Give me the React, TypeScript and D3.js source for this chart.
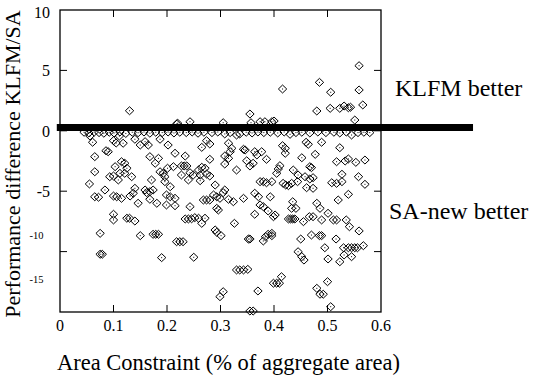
import React from "react";
import * as d3 from "d3";

// ---- data (x: area constraint fraction, y: performance difference) ----
const aboveZero: [number, number][] = [
  [0.130, 1.66], [0.355, 1.39], [0.220, 0.62], [0.243, 0.75], [0.305, 0.67], [0.357, 0.67],
  [0.374, 0.75], [0.383, 0.75], [0.396, 0.75], [0.559, 5.39], [0.416, 3.46], [0.485, 4.01],
  [0.506, 3.19], [0.559, 3.38], [0.480, 1.64], [0.505, 1.86], [0.523, 1.86], [0.531, 2.05],
  [0.539, 1.91], [0.543, 1.95], [0.566, 2.14], [0.551, 0.89], [0.400, 0.81], [0.218, 0.56],
];

const nearZero: [number, number][] = [
  [0.045, -0.12], [0.054, -0.18], [0.064, -0.10], [0.073, -0.15], [0.082, -0.20], [0.092, -0.12],
  [0.101, -0.18], [0.112, -0.10], [0.123, -0.22], [0.135, -0.12], [0.146, -0.16], [0.157, -0.10],
  [0.168, -0.20], [0.179, -0.12], [0.191, -0.15], [0.202, -0.10], [0.213, -0.18], [0.224, -0.12],
  [0.236, -0.15], [0.247, -0.10], [0.258, -0.20], [0.269, -0.12], [0.284, -0.15], [0.295, -0.10],
  [0.318, -0.15], [0.348, -0.12], [0.359, -0.18], [0.370, -0.10], [0.381, -0.15], [0.393, -0.12],
  [0.407, -0.18], [0.419, -0.10], [0.441, -0.15], [0.452, -0.12], [0.467, -0.18], [0.482, -0.10],
  [0.497, -0.15], [0.512, -0.12], [0.523, -0.18], [0.535, -0.10], [0.557, -0.15], [0.568, -0.12],
  [0.579, -0.15], [0.430, -0.29], [0.545, -0.35], [0.308, -0.26], [0.330, -0.35], [0.336, -0.26],
];

const bandLow: [number, number][] = [
  [0.056, -0.43], [0.061, -0.95], [0.100, -0.82], [0.111, -0.43], [0.118, -1.03], [0.105, -1.01],
  [0.140, -0.70], [0.150, -1.18], [0.159, -0.90], [0.165, -1.18], [0.187, -0.70], [0.202, -1.18],
  [0.215, -1.86], [0.065, -2.14], [0.086, -1.65], [0.090, -1.73], [0.115, -2.56], [0.121, -2.69],
  [0.103, -2.97], [0.125, -3.10], [0.168, -2.14], [0.178, -2.69], [0.184, -2.28], [0.065, -3.39],
  [0.112, -3.52], [0.121, -3.52], [0.093, -3.80], [0.100, -3.74], [0.109, -4.07], [0.134, -3.80],
  [0.187, -3.39], [0.193, -3.52], [0.201, -3.10], [0.196, -3.80], [0.212, -2.97], [0.171, -4.07],
  [0.055, -4.40], [0.196, -4.21], [0.206, -4.63], [0.084, -4.90], [0.065, -5.46], [0.072, -5.50],
  [0.100, -5.40], [0.106, -5.46], [0.115, -5.59], [0.140, -4.76], [0.137, -5.17], [0.131, -5.40],
  [0.159, -4.90], [0.162, -5.12], [0.168, -5.04], [0.174, -4.90], [0.146, -6.00], [0.168, -5.67],
  [0.199, -5.31], [0.206, -5.46], [0.181, -6.00], [0.199, -6.14], [0.215, -5.59], [0.215, -6.20],
  [0.100, -6.91], [0.100, -7.38], [0.125, -7.24], [0.130, -7.24], [0.140, -7.47], [0.075, -8.49],
  [0.150, -8.68], [0.174, -8.57], [0.179, -8.57], [0.184, -8.57], [0.075, -10.22], [0.079, -10.22],
  [0.190, -10.50],
];

const bandMid: [number, number][] = [
  [0.274, -0.82], [0.280, -1.09], [0.265, -1.37], [0.315, -1.03], [0.321, -1.45], [0.318, -1.73],
  [0.343, -1.53], [0.346, -1.59], [0.364, -1.73], [0.368, -2.00], [0.377, -1.73], [0.234, -2.09],
  [0.280, -2.36], [0.308, -2.09], [0.315, -2.28], [0.308, -2.75], [0.349, -2.48], [0.355, -2.91],
  [0.361, -2.69], [0.386, -2.36], [0.227, -2.91], [0.232, -2.91], [0.237, -2.91], [0.259, -3.25],
  [0.265, -3.02], [0.271, -3.10], [0.330, -3.25], [0.227, -3.66], [0.243, -3.47], [0.249, -3.66],
  [0.262, -3.66], [0.274, -3.58], [0.280, -3.74], [0.240, -4.07], [0.262, -4.13], [0.290, -4.49],
  [0.374, -4.21], [0.380, -4.21], [0.386, -4.30], [0.396, -4.21], [0.308, -4.90], [0.305, -5.12],
  [0.287, -5.31], [0.268, -5.73], [0.274, -5.73], [0.280, -5.73], [0.293, -5.46], [0.299, -5.59],
  [0.315, -5.67], [0.324, -5.87], [0.343, -5.59], [0.364, -5.17], [0.371, -5.46], [0.393, -5.46],
  [0.243, -6.28], [0.293, -6.42], [0.374, -6.14], [0.380, -6.28], [0.296, -6.56], [0.234, -7.30],
  [0.240, -7.30], [0.246, -7.28], [0.252, -7.19], [0.259, -7.24], [0.271, -7.24], [0.265, -7.66],
  [0.326, -7.66], [0.364, -6.91], [0.389, -6.64], [0.399, -7.11], [0.290, -8.21], [0.293, -8.40],
  [0.301, -8.68], [0.352, -8.96], [0.355, -8.96], [0.380, -9.12], [0.384, -8.77], [0.389, -8.57],
  [0.396, -8.68], [0.218, -9.18], [0.224, -9.18], [0.230, -9.18], [0.250, -10.47], [0.330, -11.52],
  [0.336, -11.52], [0.343, -11.52], [0.351, -11.47], [0.399, -12.62], [0.305, -13.32], [0.299, -13.73],
  [0.370, -13.26], [0.355, -14.92], [0.361, -14.92],
];

const bandHigh: [number, number][] = [
  [0.416, -1.23], [0.421, -1.45], [0.460, -0.95], [0.464, -1.12], [0.489, -0.95], [0.421, -1.86],
  [0.477, -1.95], [0.523, -1.40], [0.452, -2.23], [0.411, -2.89], [0.408, -3.16], [0.517, -2.56],
  [0.533, -2.50], [0.539, -2.33], [0.553, -2.61], [0.570, -2.42], [0.436, -3.25], [0.467, -2.97],
  [0.470, -3.05], [0.405, -3.52], [0.445, -3.66], [0.458, -3.80], [0.467, -3.99], [0.473, -3.88],
  [0.527, -3.60], [0.558, -3.80], [0.417, -4.35], [0.422, -4.49], [0.427, -4.54], [0.433, -4.35],
  [0.444, -4.21], [0.461, -4.71], [0.473, -4.76], [0.508, -4.30], [0.517, -4.35], [0.527, -4.21],
  [0.570, -4.43], [0.539, -5.26], [0.520, -5.73], [0.435, -5.87], [0.480, -6.00], [0.433, -6.42],
  [0.441, -6.42], [0.486, -6.42], [0.402, -6.97], [0.427, -7.30], [0.431, -7.30], [0.435, -7.30],
  [0.439, -7.30], [0.455, -7.52], [0.466, -7.11], [0.473, -7.11], [0.489, -7.38], [0.501, -6.83],
  [0.511, -7.38], [0.517, -7.38], [0.535, -7.38], [0.541, -7.94], [0.559, -8.29], [0.396, -8.49],
  [0.450, -8.96], [0.470, -8.63], [0.485, -8.68], [0.489, -8.68], [0.516, -8.96], [0.530, -9.68],
  [0.539, -9.68], [0.545, -9.68], [0.551, -9.68], [0.556, -9.68], [0.567, -9.51], [0.495, -9.68],
  [0.445, -10.01], [0.452, -10.42], [0.456, -10.70], [0.501, -10.61], [0.523, -10.84], [0.531, -10.28],
  [0.545, -10.42], [0.414, -12.08], [0.405, -12.62], [0.410, -12.62], [0.500, -12.49], [0.480, -13.04],
  [0.486, -13.53], [0.492, -13.53], [0.506, -14.56],
];

const xTicks = [0, 0.1, 0.2, 0.3, 0.4, 0.5, 0.6];
const xTickLabels = ["0", "0.1", "0.2", "0.3", "0.4", "0.5", "0.6"];
const yTicks = [10, 5, 0, -5, -10, -15];
const yTickLabels = ["10", "5", "0", "-5"];
const smallLabels = ["-10", "-15"];
const smallLabelValues = [-8.63, -12.27];
const dividerLevel = 0.27;
const dividerExtent = [-0.006, 0.772];

const serif: React.CSSProperties = { fontFamily: '"Liberation Serif", "Times New Roman", Times, "DejaVu Serif", serif' };

export default function App() {
  const W = 533, H = 376;
  const x = d3.scaleLinear().domain([0, 0.6]).range([60, 381]);
  const y = d3.scaleLinear().domain([-15, 10]).range([312, 10]);
  const all = [...nearZero, ...aboveZero, ...bandLow, ...bandMid, ...bandHigh];
  const tick = 7;
  const diamond = (cx: number, cy: number) =>
    `M${cx},${cy - 4}L${cx + 4.2},${cy}L${cx},${cy + 4}L${cx - 4.2},${cy}Z`;

  return (
    <svg width={W} height={H} style={{ position: "absolute", left: 0, top: 0, background: "#fff" }}>
      <rect x={0} y={0} width={W} height={H} fill="#fff" />
      <g>
        {all.map((p, i) => {
          const cx = x(p[0]), cy = y(p[1]);
          return (
            <g key={i}>
              <path d={diamond(cx, cy)} fill="none" stroke="#000" strokeWidth={1} />
              <rect x={cx - 0.5} y={cy - 0.5} width={1} height={1} fill="#000" />
            </g>
          );
        })}
      </g>
      <rect x={x(0)} y={y(10)} width={x(0.6) - x(0)} height={y(-15) - y(10)} fill="none" stroke="#000" strokeWidth={1.3} />
      {xTicks.slice(1, -1).map((t, i) => (
        <g key={"xt" + i}>
          <line x1={x(t)} x2={x(t)} y1={y(-15)} y2={y(-15) - tick} stroke="#000" strokeWidth={1} />
          <line x1={x(t)} x2={x(t)} y1={y(10)} y2={y(10) + tick} stroke="#000" strokeWidth={1} />
        </g>
      ))}
      {yTicks.slice(1, -1).map((t, i) => (
        <g key={"yt" + i}>
          <line x1={x(0)} x2={x(0) + tick} y1={y(t)} y2={y(t)} stroke="#000" strokeWidth={1} />
          <line x1={x(0.6)} x2={x(0.6) - tick} y1={y(t)} y2={y(t)} stroke="#000" strokeWidth={1} />
        </g>
      ))}
      <line x1={x(dividerExtent[0])} x2={x(dividerExtent[1])} y1={y(dividerLevel)} y2={y(dividerLevel)} stroke="#000" strokeWidth={7} />
      <g style={serif} fontSize={16} fill="#000">
        {xTicks.map((t, i) => (
          <text key={"xl" + i} x={x(t)} y={330.5} textAnchor="middle" style={serif}>{xTickLabels[i]}</text>
        ))}
        {yTickLabels.map((s, i) => (
          <text key={"yl" + i} x={50} y={y(yTicks[i]) + (i === 0 ? 8 : 6)} textAnchor="end" style={serif}>{s}</text>
        ))}
      </g>
      <g fontSize={10.5} fill="#000">
        {smallLabels.map((s, i) => (
          <text key={"sl" + i} x={43.5} y={y(smallLabelValues[i]) + 3.8} textAnchor="end" style={serif}>{s}</text>
        ))}
      </g>
      <text x={228.5} y={370} textAnchor="middle" style={serif} fontSize={22.5} fill="#000">
        Area Constraint (% of aggregate area)
      </text>
      <text transform="translate(20,164) rotate(-90)" textAnchor="middle" style={serif} fontSize={22} fill="#000">
        Performance difference KLFM/SA
      </text>
      <text x={395} y={96} style={serif} fontSize={24} fill="#000">KLFM better</text>
      <text x={389} y={219} style={serif} fontSize={24} fill="#000">SA-new better</text>
    </svg>
  );
}
